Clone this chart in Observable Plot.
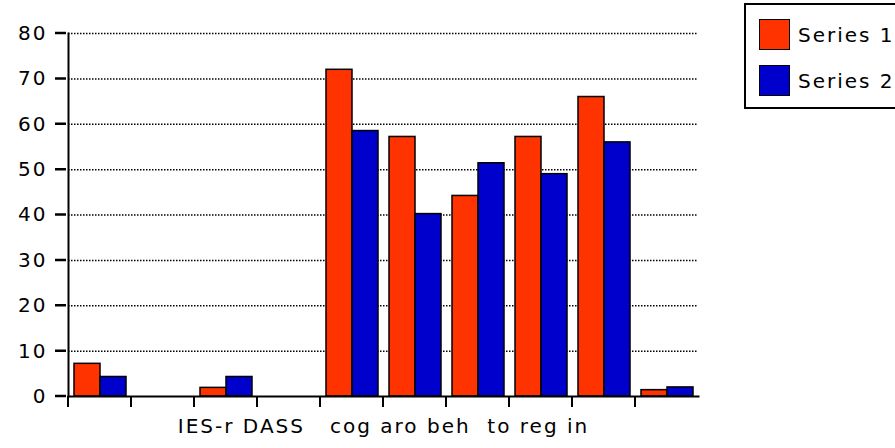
<!DOCTYPE html>
<html>
<head>
<meta charset="utf-8">
<script src="https://cdn.jsdelivr.net/npm/d3@7"></script>
<script src="https://cdn.jsdelivr.net/npm/@observablehq/plot@0.6"></script>
<style>
  html, body { margin: 0; padding: 0; background: #fff; }
  body { width: 895px; height: 448px; overflow: hidden; position: relative;
         font-family: "DejaVu Sans", Verdana, sans-serif; }
  #legend { position: absolute; left: 744px; top: 3px; width: 170px; height: 102px;
            border: 2px solid #000; background: #fff; }
  .row { position: absolute; left: 13px; display: flex; align-items: center; gap: 8px;
         font-size: 20px; letter-spacing: 2px; color: #000; }
  .swatch { width: 29px; height: 29px; border: 1.5px solid #000; }
</style>
</head>
<body>
<div id="legend"></div>
<script>
// Ten category slots; only the middle group carries the subscale scores.
const categories = ["s1", "s2", "s3", "s4", "s5", "s6", "s7", "s8", "s9", "s10"];
const seriesNames = ["Series 1", "Series 2"];
const seriesColors = ["#ff3300", "#0000cc"];
const series1 = [7.2, null, 1.9, null, 72, 57.2, 44.2, 57.2, 66, 1.4];
const series2 = [4.3, null, 4.3, null, 58.5, 40.2, 51.4, 49, 56, 2];
const yTicks = [0, 10, 20, 30, 40, 50, 60, 70, 80];
const gridTicks = [10, 20, 30, 40, 50, 60, 70, 80];
const xLabel = "IES-r DASS\u00a0\u00a0 cog aro beh\u00a0 to reg in";

const marginLeft = 66;
const tickLength = 11;

// Empty slots stay in the table (with null values) so their facets keep the grid.
const table = categories.flatMap((c, i) => [
  {category: c, series: seriesNames[0], value: series1[i]},
  {category: c, series: seriesNames[1], value: series2[i]}
]);

const plot = Plot.plot({
  width: 895,
  height: 448,
  marginLeft,
  marginRight: 195,
  marginTop: 33,
  marginBottom: 52,
  style: {fontFamily: "DejaVu Sans, Verdana, sans-serif", fontSize: "20px", letterSpacing: "2px", color: "#000", background: "transparent", overflow: "visible"},
  fx: {domain: categories, padding: 0, axis: null},
  x: {domain: seriesNames, paddingInner: 0, paddingOuter: 0.2, axis: null},
  y: {domain: [0, 80], axis: null},
  color: {domain: seriesNames, range: seriesColors},
  marks: [
    Plot.ruleY(gridTicks, {stroke: "#000", strokeWidth: 1.5, strokeDasharray: "1.5,1.5"}),
    Plot.barY(table, {fx: "category", x: "series", y: "value", fill: "series", stroke: "#000", strokeWidth: 1.5}),
    Plot.axisY(yTicks, {anchor: "left", facetAnchor: "left", tickSize: 0, tickPadding: tickLength + 10,
                        label: null, tickFormat: d => String(d), fontSize: 20}),
    Plot.frame({anchor: "left", facet: "super", stroke: "#000", strokeWidth: 2}),
    Plot.frame({anchor: "bottom", facet: "super", stroke: "#000", strokeWidth: 2}),
    Plot.text([xLabel], {frameAnchor: "bottom", dy: 36, facet: "super", fontSize: 20, fill: "#000"})
  ]
});
document.body.appendChild(plot);

const fx = plot.scale("fx");
const y = plot.scale("y");
const y0 = y.apply(0);
const svg = d3.select(plot);

// Category boundary ticks below the baseline, placed with the fx band scale.
svg.append("g")
  .attr("stroke", "#000")
  .attr("stroke-width", 2)
  .selectAll("line")
  .data(categories)
  .join("line")
  .attr("x1", c => fx.apply(c))
  .attr("x2", c => fx.apply(c))
  .attr("y1", y0)
  .attr("y2", y0 + tickLength);

// Value ticks to the left of the vertical axis, drawn as paths on top.
svg.append("path")
  .attr("fill", "none")
  .attr("stroke", "#000")
  .attr("stroke-width", 2.5)
  .attr("d", yTicks.map(d => `M${marginLeft - tickLength},${y.apply(d)}H${marginLeft}`).join(""));

// Legend box with one swatch per series.
const legend = d3.select("#legend");
seriesNames.forEach((name, i) => {
  const row = legend.append("div").attr("class", "row").style("top", (14 + i * 46) + "px");
  row.append("div").attr("class", "swatch").style("background", seriesColors[i]);
  row.append("span").text(name);
});
</script>
</body>
</html>
